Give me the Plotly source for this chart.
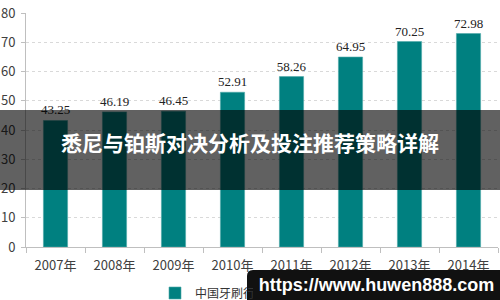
import plotly.graph_objects as go

years = ["2007年", "2008年", "2009年", "2010年", "2011年", "2012年", "2013年", "2014年"]
values = [43.25, 46.19, 46.45, 52.91, 58.26, 64.95, 70.25, 72.98]
labels = ["43.25", "46.19", "46.45", "52.91", "58.26", "64.95", "70.25", "72.98"]
series_name = "中国牙刷行业市场规模（亿元）"
banner_title = "悉尼与铂斯对决分析及投注推荐策略详解"
url_text = "https://www.huwen888.com"

W, H = 500, 300
L, R, T, B = 26, 2, 13, 53
pw, ph = W - L - R, H - T - B

def px(x):
    return (x - L) / pw

def py(y):
    return (H - B - y) / ph

fig = go.Figure()
fig.add_trace(go.Bar(
    x=years, y=values, name=series_name,
    text=labels, textposition="outside", cliponaxis=False, constraintext="none",
    textfont=dict(family="Liberation Serif", size=13, color="#222222"),
    marker=dict(color="#008080", line=dict(color="#4fa9a9", width=0.6)),
))

# rounded url box path (paper coords)
x0, x1, y0, y1 = px(247), px(500), py(300), py(270)
rx, ry = 6 / pw, 6 / ph
path = (f"M {x0},{y0} L {x0},{y1 - ry} Q {x0},{y1} {x0 + rx},{y1} "
        f"L {x1},{y1} L {x1},{y0} Z")

fig.update_layout(
    width=W, height=H,
    margin=dict(l=L, r=R, t=T, b=B, autoexpand=False),
    paper_bgcolor="white", plot_bgcolor="white",
    bargap=0.59,
    showlegend=True,
    legend=dict(orientation="h", x=px(155), y=py(293), xanchor="left", yanchor="middle",
                bgcolor="rgba(0,0,0,0)", itemwidth=30,
                font=dict(family="Noto Sans CJK SC", size=12, color="#333333")),
    xaxis=dict(
        type="category", showline=True, linecolor="#bfbfbf", linewidth=1,
        ticks="outside", tickson="boundaries", ticklen=5, tickcolor="#bfbfbf",
        tickfont=dict(family="Noto Sans CJK SC", size=13, color="#404040"),
        showgrid=False, ticklabelstandoff=6,
    ),
    yaxis=dict(
        range=[0, 80], dtick=10, showline=True, linecolor="#bfbfbf", linewidth=1,
        ticks="outside", ticklen=4, tickcolor="#bfbfbf",
        tickfont=dict(family="Noto Sans CJK SC", size=13, color="#404040"),
        showgrid=True, gridcolor="#d9d9d9", griddash="dot", gridwidth=1,
        zeroline=False, ticklabelstandoff=3,
    ),
    shapes=[
        dict(type="rect", xref="paper", yref="paper",
             x0=px(0), x1=px(500), y0=py(190), y1=py(110),
             fillcolor="rgba(0,0,0,0.62)", line=dict(width=0), layer="above"),
        dict(type="path", xref="paper", yref="paper", path=path,
             fillcolor="#111111", line=dict(width=0), layer="above"),
    ],
    annotations=[
        dict(text=f"<b>{banner_title}</b>", xref="paper", yref="paper",
             x=px(250), y=py(142), showarrow=False, xanchor="center", yanchor="middle",
             font=dict(family="Noto Sans CJK SC", size=21, color="white")),
        dict(text=f"<b>{url_text}</b>", xref="paper", yref="paper",
             x=px(253), y=py(270), showarrow=False, xanchor="left", yanchor="top",
             width=247, height=30, borderpad=0, borderwidth=0, bgcolor="#111111",
             align="center", valign="middle",
             font=dict(family="Liberation Sans", size=18, color="white")),
    ],
)

fig.write_html("out.html")
